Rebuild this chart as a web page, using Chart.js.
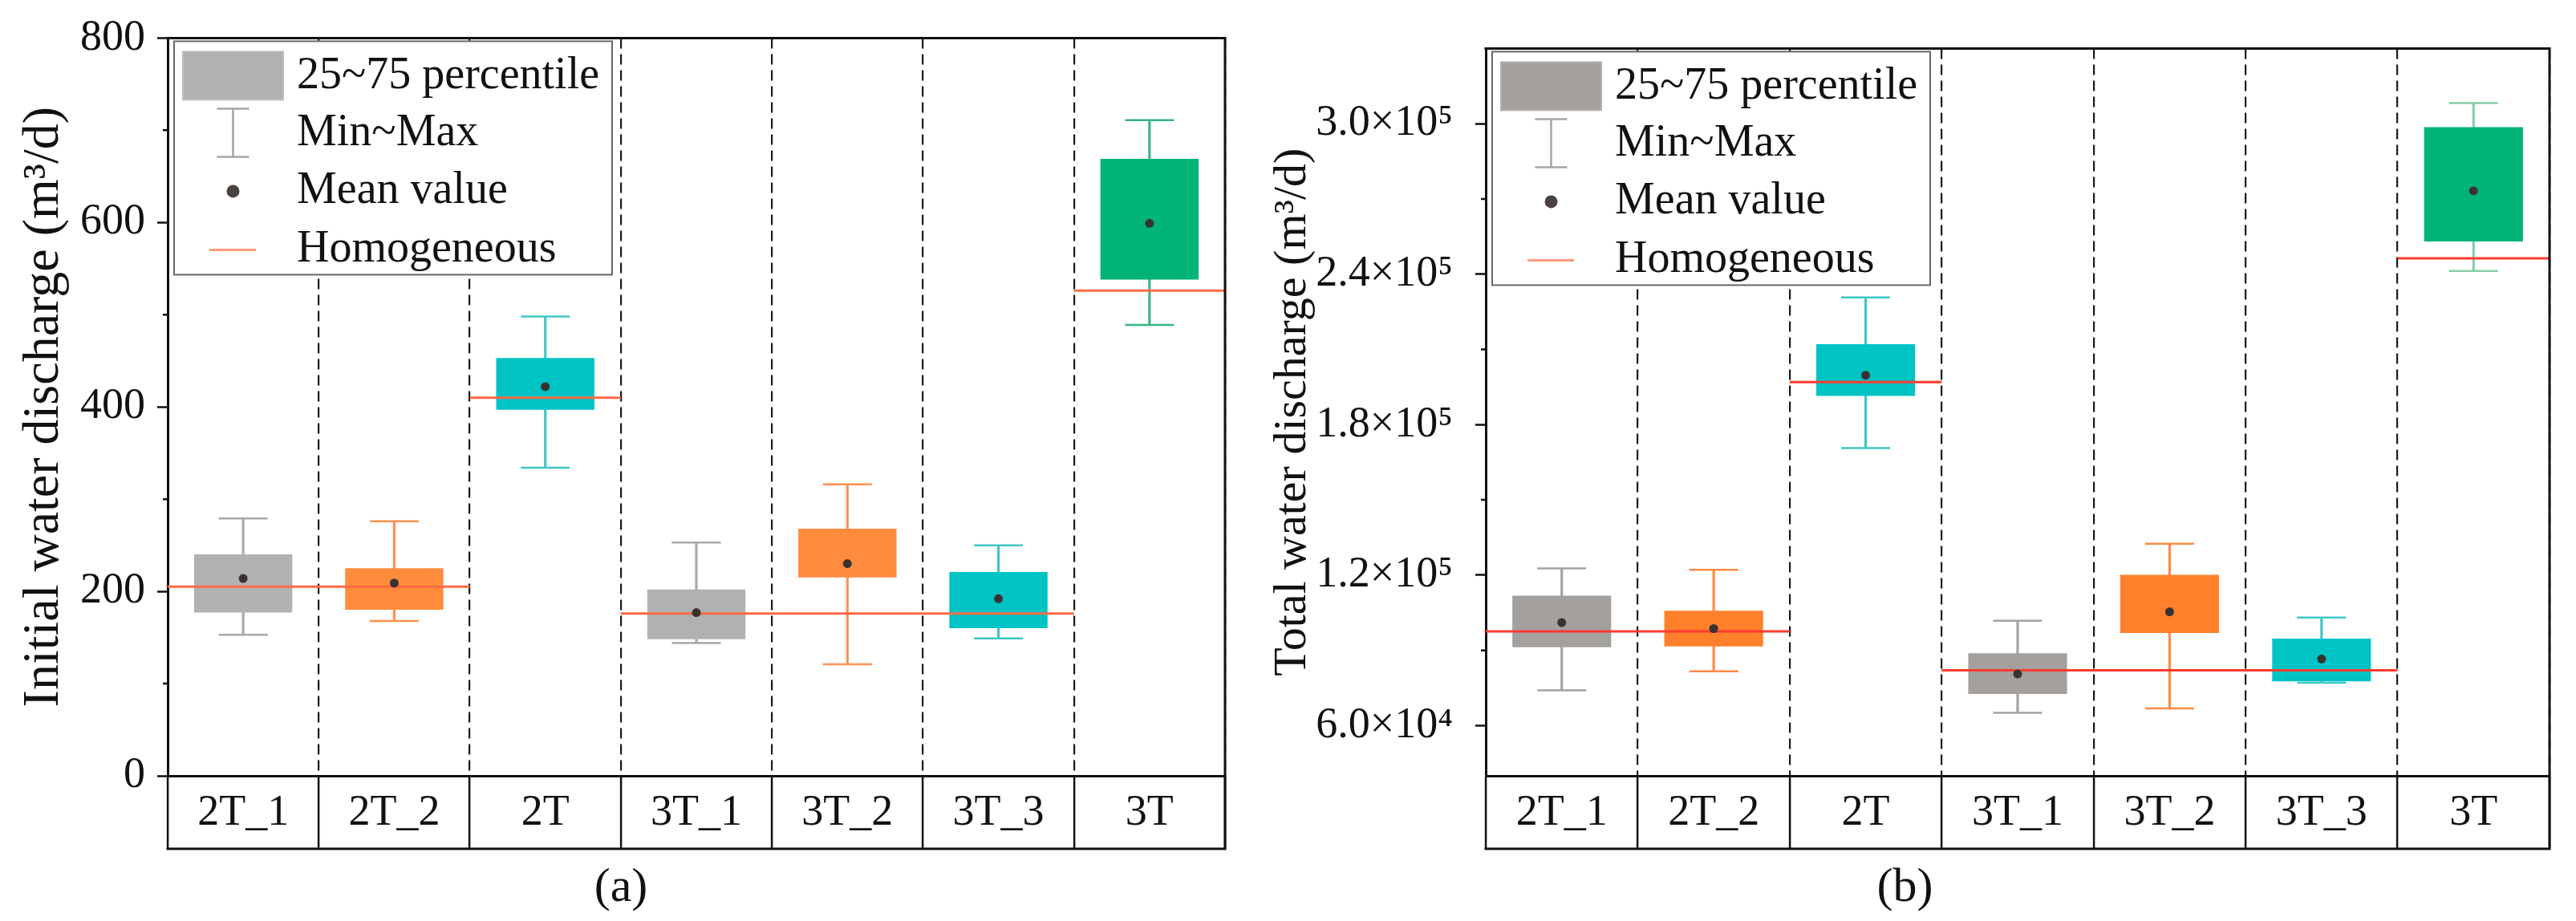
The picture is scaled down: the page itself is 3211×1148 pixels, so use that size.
<!DOCTYPE html>
<html><head><meta charset="utf-8">
<script src="https://cdn.jsdelivr.net/npm/chart.js@4.4.0/dist/chart.umd.min.js"></script>
<style>
html,body{margin:0;padding:0;background:#fff;}
#wrap{position:relative;width:3211px;height:1148px;overflow:hidden;background:#fff;}
canvas{position:absolute;top:0;}
</style></head><body>
<div id="wrap">
<canvas id="ca" width="1560" height="1148" style="left:0px"></canvas>
<canvas id="cb" width="1651" height="1148" style="left:1560px"></canvas>
</div>
<script>
// ---------- data ----------
const categories = ['2T_1','2T_2','2T','3T_1','3T_2','3T_3','3T'];
const legendLabels = ['25~75 percentile','Min~Max','Mean value','Homogeneous'];

// (a) Initial water discharge
const minA  = [153, 168, 334, 144, 121, 149, 489];
const q1A   = [177, 180, 397, 148, 215, 160, 538];
const q3A   = [240, 225, 453, 202, 268, 221, 669];
const maxA  = [279, 276, 498, 253, 316, 250, 711];
const meanA = [214, 209, 422, 177, 230, 192, 599];
const homogA = [205, 410, 176, 526];

// (b) Total water discharge
const minB  = [74100, 81700, 170700, 65100, 66900, 77100, 241300];
const q1B   = [91300, 91600, 191500, 72600, 96900, 77700, 253000];
const q3B   = [111800, 105800, 212100, 88900, 120100, 94700, 298600];
const maxB  = [122700, 122100, 230700, 101800, 132500, 103100, 308200];
const meanB = [101100, 98700, 199700, 80600, 105400, 86600, 273200];
const homogB = [97600, 197000, 82100, 246300];

// homogeneous reference groups (first and last category index of each group)
const homogFrom = [0, 2, 3, 6];
const homogTo   = [1, 2, 5, 6];

// axis ticks
const yTicksA = [0, 200, 400, 600, 800];
const yTickLabelsA = ['0', '200', '400', '600', '800'];
const yMinorA = [100, 300, 500, 700];
const yTicksB = [60000, 120000, 180000, 240000, 300000];
const yTickLabelsB = ['6.0×10⁴', '1.2×10⁵', '1.8×10⁵', '2.4×10⁵', '3.0×10⁵'];
const yMinorB = [90000, 150000, 210000, 270000];

// ---------- helpers ----------
const FONT = "'Liberation Serif', 'Times New Roman', serif";
Chart.defaults.font.family = FONT;
Chart.defaults.color = '#111';

function homogPoints(vals) {
  const pts = [];
  vals.forEach((v, k) => {
    if (k > 0) pts.push({x: homogFrom[k] - 0.5, y: null});
    pts.push({x: homogFrom[k] - 0.5, y: v});
    pts.push({x: homogTo[k] + 0.5, y: v});
  });
  return pts;
}

const decorPlugin = {
  id: 'decor',
  afterDraw(chart) {
    const o = chart.options.plugins.decor;
    const {ctx, chartArea: ca} = chart;
    const ys = chart.scales.y, xs = chart.scales.x;
    ctx.save();
    ctx.strokeStyle = '#111';
    ctx.lineWidth = 3;
    ctx.beginPath();
    ctx.moveTo(ca.left - 1.5, ca.top);
    ctx.lineTo(ca.right, ca.top);
    ctx.lineTo(ca.right, xs.bottom);
    ctx.moveTo(ca.left - 1.5, xs.bottom);
    ctx.lineTo(ca.right + 1.5, xs.bottom);
    ctx.stroke();
    // minor ticks
    ctx.lineWidth = 2.5;
    ctx.beginPath();
    o.minor.forEach(v => {
      const y = ys.getPixelForValue(v);
      ctx.moveTo(ca.left - 6, y);
      ctx.lineTo(ca.left, y);
    });
    ctx.stroke();
    // legend
    const L = ca.left, T = ca.top;
    ctx.fillStyle = '#fff';
    ctx.fillRect(L + 8, T + 4, 546, 291);
    ctx.strokeStyle = '#6b6663';
    ctx.lineWidth = 2;
    ctx.strokeRect(L + 8, T + 4, 546, 291);
    ctx.fillStyle = o.patch;
    ctx.fillRect(L + 19, T + 17, 125, 60);
    ctx.strokeStyle = o.patchEdge;
    ctx.lineWidth = 2;
    ctx.strokeRect(L + 19, T + 17, 125, 60);
    ctx.strokeStyle = '#a5a5a5';
    ctx.lineWidth = 2.5;
    ctx.beginPath();
    ctx.moveTo(L + 81.5, T + 88); ctx.lineTo(L + 81.5, T + 148);
    ctx.moveTo(L + 61.5, T + 88); ctx.lineTo(L + 101.5, T + 88);
    ctx.moveTo(L + 61.5, T + 148); ctx.lineTo(L + 101.5, T + 148);
    ctx.stroke();
    ctx.fillStyle = '#4a423f';
    ctx.beginPath();
    ctx.arc(L + 81.5, T + 191, 8, 0, Math.PI * 2);
    ctx.fill();
    ctx.strokeStyle = '#ff9a78';
    ctx.lineWidth = 3;
    ctx.beginPath();
    ctx.moveTo(L + 52, T + 264); ctx.lineTo(L + 110, T + 264);
    ctx.stroke();
    ctx.fillStyle = '#111';
    ctx.font = '56px ' + FONT;
    ctx.textBaseline = 'middle';
    ctx.textAlign = 'left';
    const rows = [48, 119, 191, 264];
    legendLabels.forEach((t, i) => ctx.fillText(t, L + 161, T + rows[i]));
    ctx.restore();
  }
};

function build(id, d) {
  const boxColors = categories.map((c, i) => d.palette[d.group[i]]);
  const whiskColors = categories.map((c, i) => d.whisk[d.group[i]]);
  return new Chart(document.getElementById(id), {
    type: 'bar',
    data: {
      labels: categories,
      datasets: [
        { type: 'bar', label: 'stem', data: categories.map((c, i) => [d.min[i], d.max[i]]),
          backgroundColor: whiskColors, barThickness: 2.5, grouped: false, order: 6 },
        { type: 'line', label: 'capMax', data: d.max, showLine: false, pointStyle: 'line',
          pointRadius: 30.5, pointBorderWidth: 2.5, pointBorderColor: whiskColors, order: 5 },
        { type: 'line', label: 'capMin', data: d.min, showLine: false, pointStyle: 'line',
          pointRadius: 30.5, pointBorderWidth: 2.5, pointBorderColor: whiskColors, order: 5 },
        { type: 'bar', label: legendLabels[0], data: categories.map((c, i) => [d.q1[i], d.q3[i]]),
          backgroundColor: boxColors, borderWidth: 0, barPercentage: 0.65, categoryPercentage: 1.0,
          grouped: false, order: 4 },
        { type: 'line', label: legendLabels[3], xAxisID: 'xh', data: homogPoints(d.homog),
          borderColor: d.homogColor, borderWidth: 3, pointRadius: 0, spanGaps: false, order: 3 },
        { type: 'line', label: legendLabels[2], data: d.mean, showLine: false, pointStyle: 'circle',
          pointRadius: 5.5, pointBorderWidth: 0, pointBackgroundColor: '#3a3232', order: 1 }
      ]
    },
    options: {
      responsive: false, devicePixelRatio: 1, animation: false, events: [],
      layout: { padding: { left: 0, right: d.padRight, top: 46, bottom: 0 } },
      scales: {
        x: {
          type: 'category', offset: true,
          grid: { offset: true, color: '#1a1a1a', lineWidth: 2.2, tickLength: 91, tickWidth: 2.5,
                  tickColor: '#111', tickBorderDash: [] },
          border: { display: true, color: '#111', width: 3, dash: [13, 7] },
          ticks: { font: { size: 54 }, color: '#111', padding: -77, autoSkip: false, maxRotation: 0, minRotation: 0 },
          afterFit: s => { s.height = 91; }
        },
        xh: { type: 'linear', position: 'bottom', display: true, min: -0.5, max: 6.5, offset: false,
              grid: { display: false, drawTicks: false }, border: { display: false },
              ticks: { display: false }, afterFit: s => { s.height = 0; } },
        y: {
          type: 'linear', min: d.yMin, max: d.yMax,
          afterBuildTicks: s => { s.ticks = d.ticks.map(v => ({ value: v })); },
          ticks: { font: { size: 54 }, color: '#111', padding: d.tickPad,
                   callback: v => d.tickLabels[d.ticks.indexOf(v)] },
          grid: { drawOnChartArea: false, drawTicks: true, tickLength: 13, tickWidth: 2.5, tickColor: '#111' },
          border: { display: true, color: '#111', width: 3 },
          title: { display: true, text: d.yTitle, color: '#111',
                   font: { size: d.yTitleSize, lineHeight: 1.2 }, padding: { top: d.yTitlePad, bottom: 0 } },
          afterFit: s => { s.width = d.yWidth; }
        }
      },
      plugins: {
        legend: { display: false },
        tooltip: { enabled: false },
        title: { display: true, text: d.caption, position: 'bottom', color: '#111',
                 font: { size: 60, weight: 'normal', lineHeight: 1.2 }, padding: { top: 13, bottom: 5 } },
        decor: { minor: d.minor, patch: d.palette[0], patchEdge: d.patchEdge }
      }
    },
    plugins: [decorPlugin]
  });
}

const groupIdx = [0, 1, 2, 0, 1, 2, 3];

build('ca', {
  min: minA, q1: q1A, q3: q3A, max: maxA, mean: meanA, homog: homogA,
  group: groupIdx,
  palette: ['#b1b1b1', '#ff8b3d', '#00c3c3', '#00b377'],
  whisk: ['#a9a9a9', '#ff9050', '#3ec6c6', '#36b582'],
  homogColor: '#ff6a45', patchEdge: '#bdbdbd',
  yMin: 0, yMax: 800, ticks: yTicksA, tickLabels: yTickLabelsA, minor: yMinorA,
  yTitle: 'Initial water discharge (m³/d)', yTitleSize: 64, yTitlePad: 17,
  yWidth: 209, tickPad: 15, padRight: 12, caption: '(a)'
});

build('cb', {
  min: minB, q1: q1B, q3: q3B, max: maxB, mean: meanB, homog: homogB,
  group: groupIdx,
  palette: ['#a3a09e', '#ff7f2b', '#00c4c4', '#00b377'],
  whisk: ['#a3a3a3', '#ff8a45', '#3ec6c6', '#86cfa8'],
  homogColor: '#ff3b30', patchEdge: '#b3b0ae',
  yMin: 40000, yMax: 330000, ticks: yTicksB, tickLabels: yTickLabelsB, minor: yMinorB,
  yTitle: 'Total water discharge (m³/d)', yTitleSize: 58, yTitlePad: 17,
  yWidth: 292, tickPad: 28, padRight: 22, caption: '(b)'
});
</script>
</body></html>
